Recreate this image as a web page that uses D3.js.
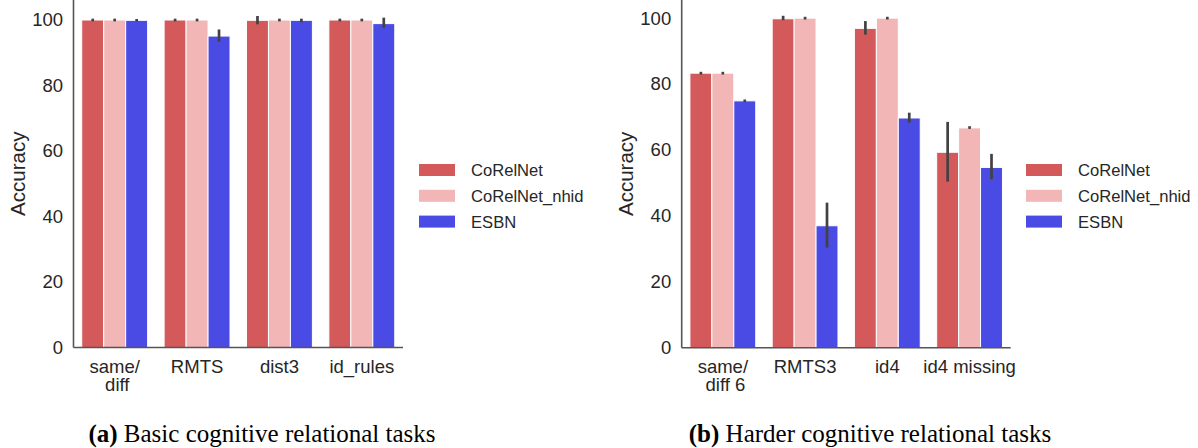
<!DOCTYPE html>
<html>
<head>
<meta charset="utf-8">
<script src="https://cdn.jsdelivr.net/npm/d3@7/dist/d3.min.js"></script>
<style>
  html, body { margin: 0; padding: 0; background: #fff; }
  svg { display: block; }
</style>
</head>
<body>
<svg id="chart" width="1198" height="448"></svg>
<script>
// ---------- data ----------
const seriesNames = ["CoRelNet", "CoRelNet_nhid", "ESBN"];
const seriesColors = ["#d3595b", "#f1b6b5", "#4a4ae4"];
const yTicks = [0, 20, 40, 60, 80, 100];

// (a) Basic cognitive relational tasks
const tasksA = ["same/\n diff", "RMTS", "dist3", "id_rules"];
const meanA_CoRelNet = [99.9, 99.9, 99.8, 99.9];
const meanA_nhid     = [99.9, 99.9, 99.9, 99.9];
const meanA_ESBN     = [99.8, 95.0, 99.8, 98.8];
const loA_CoRelNet = [99.9, 99.9, 99.0, 99.9];
const hiA_CoRelNet = [99.9, 99.9, 100.7, 99.9];
const loA_nhid     = [99.9, 99.9, 99.9, 99.9];
const hiA_nhid     = [99.9, 99.9, 99.9, 99.9];
const loA_ESBN     = [99.8, 93.7, 99.6, 97.9];
const hiA_ESBN     = [99.8, 96.6, 99.9, 100.2];

// (b) Harder cognitive relational tasks
const tasksB = ["same/\n diff 6", "RMTS3", "id4", "id4 missing"];
const meanB_CoRelNet = [83.3, 99.8, 96.9, 59.3];
const meanB_nhid     = [83.3, 100.0, 100.0, 66.7];
const meanB_ESBN     = [74.9, 37.0, 69.7, 54.7];
const loB_CoRelNet = [83.3, 99.8, 95.4, 50.8];
const hiB_CoRelNet = [83.3, 100.3, 98.7, 68.1];
const loB_nhid     = [83.3, 100.0, 100.0, 66.8];
const hiB_nhid     = [83.3, 100.0, 100.0, 66.8];
const loB_ESBN     = [74.9, 30.8, 68.7, 51.5];
const hiB_ESBN     = [74.9, 43.6, 70.9, 58.4];

const captionA = ["(a)", " Basic cognitive relational tasks"];
const captionB = ["(b)", " Harder cognitive relational tasks"];
const yLabel = "Accuracy";

// ---------- drawing ----------
const SANS = "'Liberation Sans', Arial, sans-serif";
const SERIF = "'Liberation Serif', 'Times New Roman', serif";
const svg = d3.select("#chart");
svg.append("rect").attr("width", 1198).attr("height", 448).attr("fill", "#fff");

function drawPanel(cfg) {
  const g = svg.append("g").style("font-family", SANS);
  const x = d3.scaleBand().domain(cfg.tasks).range([cfg.x0, cfg.x1])
    .paddingInner(0.2).paddingOuter(0.1);
  const xs = d3.scaleBand().domain(seriesNames).range([0, x.bandwidth()]);
  const y = d3.scaleLinear().domain([0, cfg.yMax]).range([cfg.yBottom, 0]);

  const rows = [];
  cfg.tasks.forEach((t, i) => {
    seriesNames.forEach((s, j) => {
      rows.push({ task: t, series: s, color: seriesColors[j],
        mean: cfg.means[j][i], lo: cfg.los[j][i], hi: cfg.his[j][i] });
    });
  });

  g.selectAll("rect.bar").data(rows).join("rect")
    .attr("class", "bar")
    .attr("x", d => x(d.task) + xs(d.series))
    .attr("width", xs.bandwidth())
    .attr("y", d => y(d.mean))
    .attr("height", d => y(0) - y(d.mean))
    .attr("fill", d => d.color)
    .attr("stroke", "#fff")
    .attr("stroke-width", 1);

  g.selectAll("line.err").data(rows).join("line")
    .attr("class", "err")
    .attr("x1", d => x(d.task) + xs(d.series) + xs.bandwidth() / 2)
    .attr("x2", d => x(d.task) + xs(d.series) + xs.bandwidth() / 2)
    .attr("y1", d => y(d.lo))
    .attr("y2", d => y(d.hi))
    .attr("stroke", "#424242")
    .attr("stroke-width", 2.7)
    .attr("stroke-linecap", "square");

  // y axis
  const ya = g.append("g").attr("transform", `translate(${cfg.x0},0)`)
    .call(d3.axisLeft(y).tickValues(yTicks).tickSize(0).tickPadding(10.5));
  ya.attr("font-family", null);
  ya.select(".domain").attr("stroke", "#555").attr("stroke-width", 1.6)
    .attr("d", `M0,0V${cfg.yBottom}`);
  ya.selectAll(".tick text").attr("font-size", 18.5).attr("fill", "#262626");

  // x axis
  const xa = g.append("g").attr("transform", `translate(0,${cfg.yBottom})`)
    .call(d3.axisBottom(x).tickSize(0).tickFormat(""));
  xa.attr("font-family", null);
  xa.select(".domain").attr("stroke", "#555").attr("stroke-width", 1.6)
    .attr("d", `M${cfg.x0},0H${cfg.x1}`);
  xa.selectAll(".tick").each(function (d) {
    const t = d3.select(this).append("text")
      .attr("fill", "#262626").attr("font-size", 18.5)
      .attr("text-anchor", "middle")
      .style("white-space", "pre");
    d.split("\n").forEach((line, k) => {
      t.append("tspan").attr("x", 0).attr("y", 25 + k * 18.7).text(line);
    });
  });

  // y label
  g.append("text")
    .attr("transform", `translate(${cfg.x0 - 49},${cfg.yBottom / 2}) rotate(-90)`)
    .attr("text-anchor", "middle")
    .attr("font-size", 20.5).attr("fill", "#262626")
    .text(yLabel);

  // legend
  const lg = g.append("g").attr("transform", `translate(${cfg.legendX},170)`);
  seriesNames.forEach((s, j) => {
    lg.append("rect").attr("x", 0).attr("y", j * 25.8 - 6)
      .attr("width", 36).attr("height", 12).attr("fill", seriesColors[j]);
    lg.append("text").attr("x", 52).attr("y", j * 25.8).attr("dy", "0.36em")
      .attr("font-size", 16.6).attr("fill", "#262626").text(s);
  });

  // caption
  const cap = svg.append("text").attr("x", cfg.capX).attr("y", 442)
    .attr("text-anchor", "middle").attr("font-size", 25)
    .style("font-family", SERIF)
    .attr("fill", "#000").style("white-space", "pre");
  cap.append("tspan").attr("font-weight", "bold").text(cfg.caption[0]);
  cap.append("tspan").text(cfg.caption[1]);
}

drawPanel({
  tasks: tasksA, x0: 73.5, x1: 403, yBottom: 347.5, yMax: 106,
  means: [meanA_CoRelNet, meanA_nhid, meanA_ESBN],
  los: [loA_CoRelNet, loA_nhid, loA_ESBN],
  his: [hiA_CoRelNet, hiA_nhid, hiA_ESBN],
  legendX: 419, capX: 262, caption: captionA
});
drawPanel({
  tasks: tasksB, x0: 681.7, x1: 1010.7, yBottom: 347.7, yMax: 105.5,
  means: [meanB_CoRelNet, meanB_nhid, meanB_ESBN],
  los: [loB_CoRelNet, loB_nhid, loB_ESBN],
  his: [hiB_CoRelNet, hiB_nhid, hiB_ESBN],
  legendX: 1026, capX: 870, caption: captionB
});
</script>
</body>
</html>
